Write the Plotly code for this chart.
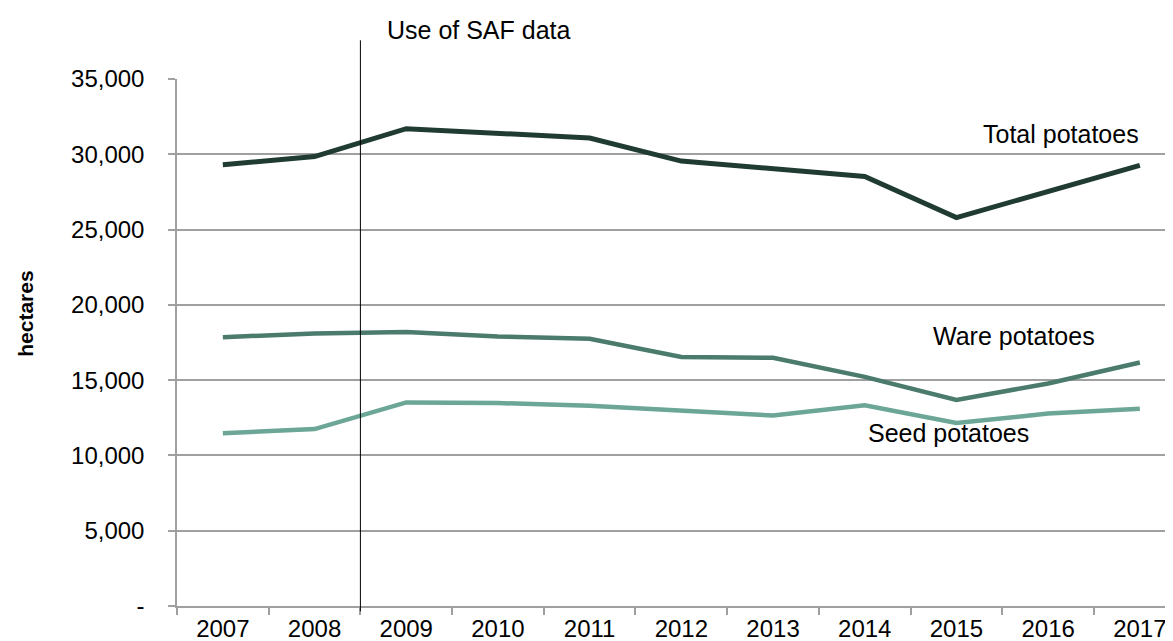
import plotly.graph_objects as go

years = ["2007", "2008", "2009", "2010", "2011", "2012", "2013", "2014", "2015", "2016", "2017"]
total_potatoes = [29300, 29850, 31700, 31370, 31080, 29550, 29050, 28530, 25800, 27560, 29270]
ware_potatoes = [17850, 18100, 18200, 17900, 17750, 16540, 16480, 15220, 13680, 14780, 16170]
seed_potatoes = [11480, 11750, 13520, 13480, 13300, 13000, 12650, 13330, 12150, 12780, 13100]
y_tickvals = [0, 5000, 10000, 15000, 20000, 25000, 30000, 35000]
y_ticktext = ["-", "5,000", "10,000", "15,000", "20,000", "25,000", "30,000", "35,000"]

W, H = 1173, 641
L, R, T, B = 169, 0, 70.7, 43.3
PW, PH = W - L - R, H - T - B
FONT = "Liberation Sans, Arial, sans-serif"
GRID = "#a0a0a0"


def px(x):
    return (x - L) / PW


def py(y):
    return (H - B - y) / PH


fig = go.Figure()
fig.add_trace(go.Scatter(x=years, y=total_potatoes, mode="lines", name="Total potatoes",
                         line=dict(color="#203b32", width=5)))
fig.add_trace(go.Scatter(x=years, y=ware_potatoes, mode="lines", name="Ware potatoes",
                         line=dict(color="#4b7b6d", width=4.5)))
fig.add_trace(go.Scatter(x=years, y=seed_potatoes, mode="lines", name="Seed potatoes",
                         line=dict(color="#6ba697", width=4.5)))

fig.update_layout(
    width=W, height=H,
    margin=dict(l=L, r=R, t=T, b=B, autoexpand=False),
    paper_bgcolor="white", plot_bgcolor="white",
    showlegend=False,
    font=dict(family=FONT, color="black", size=24),
    xaxis=dict(type="category", categoryorder="array", categoryarray=years,
               range=[-0.5, (W - L) / (PW / 11) - 0.5 if False else 10.449],
               showgrid=False, zeroline=False,
               showline=True, linecolor=GRID, linewidth=1.5,
               ticks="outside", tickson="boundaries", ticklen=7, tickcolor=GRID, tickwidth=1.5,
               tickfont=dict(family=FONT, size=24, color="black"),
               automargin=False),
    yaxis=dict(range=[0, 35000], tickvals=y_tickvals, ticktext=y_ticktext,
               showgrid=True, gridcolor=GRID, gridwidth=1.5, zeroline=False,
               showline=True, linecolor=GRID, linewidth=1.5,
               ticks="outside", ticklen=7, tickcolor=GRID, tickwidth=1.5,
               ticklabelstandoff=19,
               tickfont=dict(family=FONT, size=24, color="black"),
               automargin=False),
)

fig.add_shape(type="line", xref="x", yref="paper", x0=1.5, x1=1.5,
              y0=py(603), y1=py(32), line=dict(color="black", width=1))

annots = [
    ("Use of SAF data", 471, 22, 25, False, 0),
    ("Total potatoes", 1053, 126, 25, False, 0),
    ("Ware potatoes", 1006, 328, 25, False, 0),
    ("Seed potatoes", 940, 425, 25, False, 0),
    ("<b>hectares</b>", 17.5, 306, 21, True, -90),
]
for text, x, y, size, bold, ang in annots:
    fig.add_annotation(text=text, xref="paper", yref="paper", x=px(x), y=py(y),
                       xanchor="center", yanchor="middle", showarrow=False,
                       textangle=ang, font=dict(family=FONT, size=size, color="black"))

fig.write_html("out.html")
